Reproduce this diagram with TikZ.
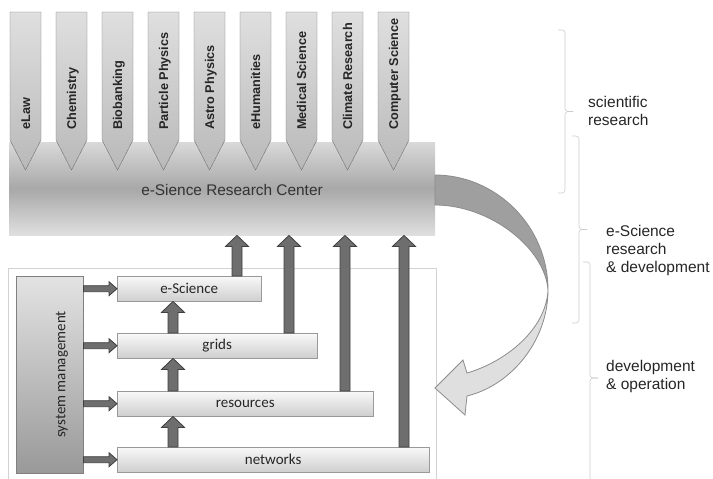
\documentclass[tikz,border=0pt]{standalone}
\usepackage{fontspec}
\setmainfont{Liberation Sans}
\newfontfamily\calibfont{Carlito}
\usepackage{tikz}
\usetikzlibrary{arrows.meta,positioning,calc}

\newcommand{\blockup}[3]{%
  \draw[blockarr] let \p1=(#1), \p2=(#2), \p3=(#3,0) in
    ({\x3-5pt},\y1) -- ({\x3-5pt},{\y2-11pt}) -- ({\x3-11.5pt},{\y2-11pt}) -- (\x3,\y2)
    -- ({\x3+11.5pt},{\y2-11pt}) -- ({\x3+5pt},{\y2-11pt}) -- ({\x3+5pt},\y1) -- cycle;}
\newcommand{\blockright}[2]{%
  \draw[blockarr] let \p1=(#1.east), \p2=(#2.west) in
    (\x1,{\y2+3pt}) -- ({\x2-8pt},{\y2+3pt}) -- ({\x2-8pt},{\y2+7pt}) -- (\x2,\y2)
    -- ({\x2-8pt},{\y2-7pt}) -- ({\x2-8pt},{\y2-3pt}) -- (\x1,{\y2-3pt}) -- cycle;}
% x of the hooks, top, bottom
\newcommand{\sidebrace}[3]{%
  \draw[bracket] (#1,#2) -| ({#1+7},{(#2+#3)/2}) -- ({#1+15},{(#2+#3)/2});
  \draw[bracket] (#1,#3) -| ({#1+7},{(#2+#3)/2}) -- ({#1+15},{(#2+#3)/2});}

\begin{document}
\begin{tikzpicture}[
  x=1pt, y=-1pt,
  discipline/.style={draw=black!55, top color=gray!25, bottom color=gray!55},
  disctext/.style={font=\fontsize{12.7}{14}\selectfont\bfseries, text=black!85, inner sep=0pt, rotate=90, anchor=base west},
  rcbar/.style={draw=none, top color=gray!30, bottom color=gray!25, middle color=gray!68, inner sep=0pt},
  rctext/.style={font=\fontsize{15.4}{18}\selectfont, text=black!80, inner sep=0pt},
  opsframe/.style={draw=gray!35, fill=white, inner sep=0pt},
  sysbox/.style={draw=black!50, top color=gray!22, bottom color=gray!80, inner sep=0pt},
  layer/.style={draw=gray!80, top color=gray!5, bottom color=gray!38, minimum height=25pt, inner sep=0pt, font=\calibfont\fontsize{15}{18}\selectfont, text=black!85},
  laytext/.style={font=\calibfont\fontsize{15}{18}\selectfont, text=black!85, inner sep=0pt},
  blockarr/.style={draw=black!75, fill=black!57, line width=0.8pt},
  bendarr/.style={draw=gray!90, line width=0.8pt},
  bracket/.style={draw=gray!40, line width=0.6pt, rounded corners=3pt},
  sidetext/.style={anchor=west, align=left, inner sep=0pt, font=\fontsize{15.5}{18}\selectfont, text=black!85}
]
\useasboundingbox (0,0) rectangle (713,479);

\node[rcbar, anchor=north west, minimum width=426pt, minimum height=93pt] (rc) at (9,142) {};
\node[rctext] (rclbl) at (232,190) {e-Sience Research Center};

\foreach \lbl [count=\i] in {eLaw, Chemistry, Biobanking, Particle Physics, Astro Physics, eHumanities, Medical Science, Climate Research, Computer Science}{
  \pgfmathsetmacro\cx{25.5+46*(\i-1)}
  \draw[discipline] (\cx-15.5,12) -- (\cx+15.5,12) -- (\cx+15.5,140) -- (\cx,170) -- (\cx-15.5,140) -- cycle;
  \node[disctext] (disc\i) at (\cx+4.6,130) {\lbl};
}

\node[opsframe, anchor=north west, minimum width=428pt, minimum height=212pt] (ops) at (8,268) {};

\fill[gray!75, bendarr] (435,175) .. controls (495,175) and (548,225) .. (548,290)
  .. controls (545,248) and (490,205) .. (435,205) -- cycle;
\fill[gray!25, bendarr] (548,290) .. controls (548,340) and (512,385) .. (467,396)
  -- (465,415) -- (435,388) -- (463,360) -- (467,373)
  .. controls (505,362) and (546,330) .. (548,290) -- cycle;

\node[sysbox, anchor=north west, minimum width=67pt, minimum height=197pt] (sysm) at (16,276) {};
\node[laytext, rotate=90] (sysmlbl) at (62,374.5) {system management};

\node[layer, anchor=north west, minimum width=144pt] (esci) at (117,276) {e-Science};
\node[layer, anchor=north west, minimum width=200pt] (grids) at (117,333) {grids};
\node[layer, anchor=north west, minimum width=256pt] (res) at (117,391) {resources};
\node[layer, anchor=north west, minimum width=312pt] (net) at (117,447) {networks};

\blockright{sysm}{esci}
\blockright{sysm}{grids}
\blockright{sysm}{res}
\blockright{sysm}{net}

\blockup{net.north}{res.south}{173}
\blockup{res.north}{grids.south}{173}
\blockup{grids.north}{esci.south}{173}

\blockup{esci.north}{rc.south}{237}
\blockup{grids.north}{rc.south}{289}
\blockup{res.north}{rc.south}{345}
\blockup{net.north}{rc.south}{404}

\sidebrace{558}{30}{193}
\sidebrace{572}{136}{323}
\sidebrace{583}{262}{494}

\node[sidetext] (sci) at (588,111) {scientific\\research};
\node[sidetext] (esrd) at (606,250) {e-Science\\research\\\& development};
\node[sidetext] (devop) at (606,376) {development\\\& operation};

\end{tikzpicture}
\end{document}
